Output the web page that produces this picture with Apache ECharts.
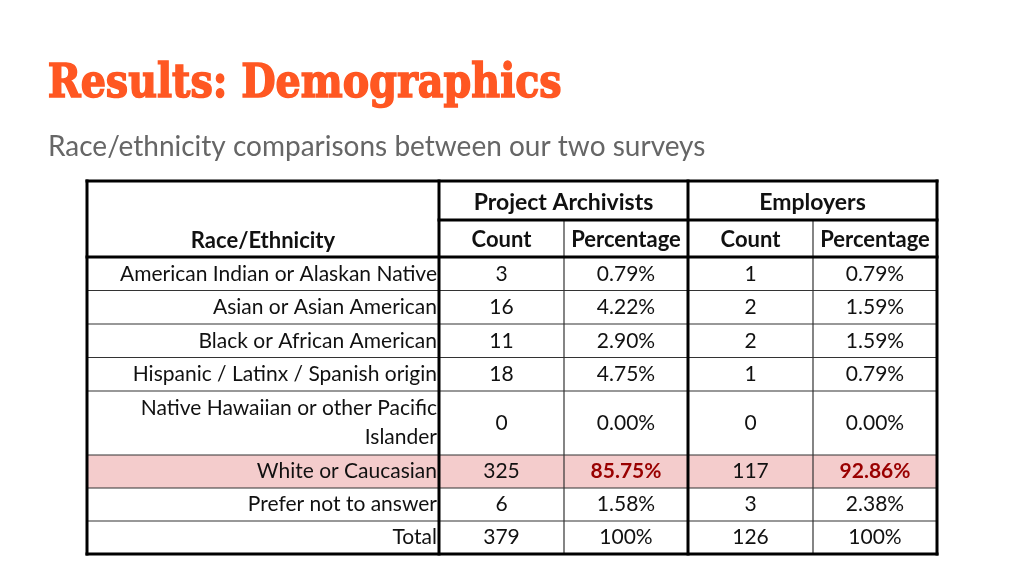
<!DOCTYPE html>
<html>
<head>
<meta charset="utf-8">
<title>Results: Demographics</title>
<script src="https://cdn.jsdelivr.net/npm/echarts@6/dist/echarts.min.js"></script>
<style>
  html, body { margin: 0; padding: 0; background: #fff; }
  #main { width: 1024px; height: 576px; }
</style>
</head>
<body>
<div id="main"></div>
<script>
// ---- data ----
const races = [
  'American Indian or Alaskan Native',
  'Asian or Asian American',
  'Black or African American',
  'Hispanic / Latinx / Spanish origin',
  'Native Hawaiian or other Pacific\nIslander',
  'White or Caucasian',
  'Prefer not to answer',
  'Total'
];
const archivistCount = [3, 16, 11, 18, 0, 325, 6, 379];
const archivistPct = [0.79, 4.22, 2.90, 4.75, 0.00, 85.75, 1.58, 100];
const employerCount = [1, 2, 2, 1, 0, 117, 3, 126];
const employerPct = [0.79, 1.59, 1.59, 0.79, 0.00, 92.86, 2.38, 100];
const groups = ['Project Archivists', 'Employers'];
const subHeads = ['Count', 'Percentage'];
const highlightRow = 'White or Caucasian';

// ---- layout (units of the hidden value axes) ----
const colWidths = [352, 125, 124, 125, 124];
const rowHeights = [39, 37, 33.5, 33.5, 33.5, 33.5, 64, 33, 33, 33];

const colEdges = [0];
colWidths.forEach(w => colEdges.push(colEdges[colEdges.length - 1] + w));
const rowEdges = [0];
rowHeights.forEach(h => rowEdges.push(rowEdges[rowEdges.length - 1] + h));
const W = colEdges[colEdges.length - 1];
const H = rowEdges[rowEdges.length - 1];

const FONT = 'Lato, "Open Sans", sans-serif';
const fmtPct = v => (v === 100 ? '100%' : v.toFixed(2) + '%');

// cells of the table: [x0, y0, x1, y1] + style info kept aside
const cells = [];
function addCell(c0, c1, r0, r1, text, opt) {
  cells.push(Object.assign({
    box: [colEdges[c0], rowEdges[r0], colEdges[c1], rowEdges[r1]],
    text: text, align: 'center', bold: false, size: 21, dy: 0, color: '#111', fill: null
  }, opt || {}));
}

// header
addCell(0, 1, 1, 2, 'Race/Ethnicity', { bold: true, size: 22, dy: 2 });
groups.forEach((g, i) => addCell(1 + 2 * i, 3 + 2 * i, 0, 1, g, { bold: true, size: 23, dy: 2 }));
groups.forEach((g, i) => subHeads.forEach((s, j) =>
  addCell(1 + 2 * i + j, 2 + 2 * i + j, 1, 2, s, { bold: true, size: 22, dy: 1 })));

// body
races.forEach((r, i) => {
  const hl = r === highlightRow;
  const fill = hl ? '#f4cccc' : null;
  const red = hl ? '#990000' : '#111';
  const row = i + 2;
  addCell(0, 1, row, row + 1, r, { align: 'right', fill: fill });
  addCell(1, 2, row, row + 1, String(archivistCount[i]), { fill: fill });
  addCell(2, 3, row, row + 1, fmtPct(archivistPct[i]), { fill: fill, bold: hl, color: red });
  addCell(3, 4, row, row + 1, String(employerCount[i]), { fill: fill });
  addCell(4, 5, row, row + 1, fmtPct(employerPct[i]), { fill: fill, bold: hl, color: red });
});

// grid lines: [x0, y0, x1, y1, thick]
const lines = [];
for (let r = 3; r < rowEdges.length - 1; r++) lines.push([0, rowEdges[r], W, rowEdges[r], 0]);
lines.push([colEdges[2], rowEdges[1], colEdges[2], H, 0]);
lines.push([colEdges[4], rowEdges[1], colEdges[4], H, 0]);
lines.push([colEdges[1], rowEdges[1], W, rowEdges[1], 1]);
lines.push([0, rowEdges[2], W, rowEdges[2], 1]);
lines.push([colEdges[1], 0, colEdges[1], H, 1]);
lines.push([colEdges[3], 0, colEdges[3], H, 1]);
lines.push([0, 0, W, 0, 1], [0, H, W, H, 1], [0, 0, 0, H, 1], [W, 0, W, H, 1]);

// title font is squeezed to the slide's width
const titleText = 'Results: Demographics';
const titleFont = 'bold 47px "DejaVu Serif", serif';
const ctx = document.createElement('canvas').getContext('2d');
ctx.font = titleFont;
const titleScale = 514 / ctx.measureText(titleText).width;

const chart = echarts.init(document.getElementById('main'), null, { renderer: 'canvas' });

const option = {
  backgroundColor: '#fff',
  animation: false,
  title: [{
    text: 'Race/ethnicity comparisons between our two surveys',
    left: 43, top: 128,
    textStyle: { fontFamily: FONT, fontSize: 28, fontWeight: 'normal', color: '#666' }
  }],
  graphic: [{
    type: 'text', left: 47, top: 60, scaleX: titleScale,
    style: { text: titleText, font: titleFont, fill: '#ff5722', stroke: '#ff5722', lineWidth: 1.6 }
  }],
  grid: { left: 87, top: 181, width: W, height: H },
  xAxis: { type: 'value', min: 0, max: W, show: false },
  yAxis: { type: 'value', min: 0, max: H, inverse: true, show: false },
  series: [
    {
      name: 'cells',
      type: 'custom',
      data: cells.map(c => c.box),
      encode: { x: [0, 2], y: [1, 3] },
      renderItem: function (params, api) {
        const c = cells[params.dataIndex];
        const p0 = api.coord([api.value(0), api.value(1)]);
        const p1 = api.coord([api.value(2), api.value(3)]);
        const children = [];
        if (c.fill) {
          children.push({ type: 'rect', shape: { x: p0[0], y: p0[1], width: p1[0] - p0[0], height: p1[1] - p0[1] },
            style: { fill: c.fill } });
        }
        const tx = c.align === 'right' ? p1[0] - 2 : (p0[0] + p1[0]) / 2;
        children.push({
          type: 'text',
          style: {
            x: tx, y: (p0[1] + p1[1]) / 2 + c.dy,
            text: c.text, align: c.align, verticalAlign: 'middle',
            fontFamily: FONT, fontSize: c.size, fontWeight: c.bold ? 'bold' : 'normal',
            lineHeight: 29, fill: c.color
          }
        });
        return { type: 'group', children: children };
      },
      z: 2
    },
    {
      name: 'lines',
      type: 'custom',
      data: lines,
      encode: { x: [0, 2], y: [1, 3] },
      renderItem: function (params, api) {
        const p0 = api.coord([api.value(0), api.value(1)]);
        const p1 = api.coord([api.value(2), api.value(3)]);
        const thick = api.value(4) === 1;
        return {
          type: 'line',
          shape: { x1: p0[0], y1: p0[1], x2: p1[0], y2: p1[1] },
          style: { stroke: thick ? '#000' : '#333', lineWidth: thick ? 3 : 1.2, lineCap: 'square' },
          z2: thick ? 10 : 5
        };
      },
      z: 3
    }
  ]
};

chart.setOption(option);
</script>
</body>
</html>
